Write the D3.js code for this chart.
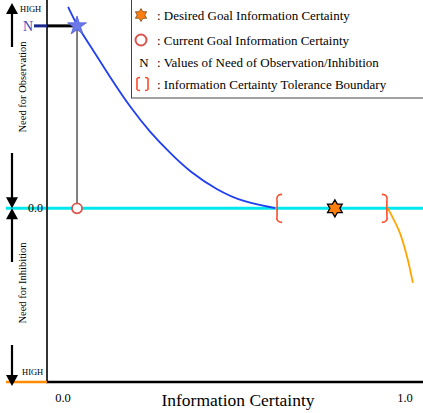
<!DOCTYPE html>
<html>
<head>
<meta charset="utf-8">
<script src="https://cdn.jsdelivr.net/npm/d3@7"></script>
<style>
  body { margin: 0; background: #fff; }
  svg { font-family: "Liberation Serif", "Times New Roman", serif; }
</style>
</head>
<body>
<svg id="chart" width="423" height="413"></svg>
<script>
// need for observation curve (blue), information certainty vs need value
const observationCurve = [
  [0.015, 1.16], [0.041, 1.051], [0.088, 0.912], [0.137, 0.757], [0.202, 0.567],
  [0.254, 0.44], [0.313, 0.319], [0.371, 0.21], [0.45, 0.106], [0.526, 0.037], [0.62, 0.002]
];
// need for inhibition curve (orange)
const inhibitionCurve = [
  [0.95, 0], [0.985, -0.141], [1.006, -0.279], [1.023, -0.429]
];
const currentCertainty = 0.041;
const currentNeed = 1.051;
const desiredCertainty = 0.795;
const toleranceBounds = [0.626, 0.947];
const xTickLabels = ["0.0", "1.0"];
const legendItems = [
  ": Desired Goal Information Certainty",
  ": Current Goal Information Certainty",
  ": Values of Need of Observation/Inhibition",
  ": Information Certainty Tolerance Boundary"
];

const svg = d3.select("#chart");
const x = d3.scaleLinear().domain([0, 1]).range([63, 405]);
const y = d3.scaleLinear().domain([-1, 1.2]).range([382, 0]);
const axisX = 47;

// zero line (cyan)
svg.append("line")
  .attr("x1", 6).attr("x2", 423)
  .attr("y1", y(0)).attr("y2", y(0))
  .attr("stroke", "#00e8ee").attr("stroke-width", 3);

// axes
svg.append("line")
  .attr("x1", axisX).attr("x2", axisX)
  .attr("y1", 0).attr("y2", y(-1))
  .attr("stroke", "#333").attr("stroke-width", 2);
svg.append("line")
  .attr("x1", axisX - 1).attr("x2", 423)
  .attr("y1", y(-1)).attr("y2", y(-1))
  .attr("stroke", "#000").attr("stroke-width", 2.5);
svg.append("line")
  .attr("x1", 6).attr("x2", axisX)
  .attr("y1", y(-1)).attr("y2", y(-1))
  .attr("stroke", "#ff8c00").attr("stroke-width", 2.5);

// x tick labels
svg.selectAll(".xtick")
  .data(xTickLabels)
  .enter()
  .append("text")
  .attr("class", "xtick")
  .attr("x", (d, i) => x(i))
  .attr("y", 402)
  .attr("text-anchor", "middle")
  .attr("font-size", 12.5)
  .text(d => d);

svg.append("text")
  .attr("x", 238).attr("y", 406)
  .attr("text-anchor", "middle")
  .attr("font-size", 17.5)
  .text("Information Certainty");

// left annotations: arrows with triangle heads
const arrowX = 12;
function arrow(y1, y2) {
  const dir = y2 > y1 ? 1 : -1;
  svg.append("line")
    .attr("x1", arrowX).attr("x2", arrowX)
    .attr("y1", y1).attr("y2", y2 - dir * 8)
    .attr("stroke", "#000").attr("stroke-width", 2.2);
  svg.append("path")
    .attr("d", "M" + (arrowX - 6) + "," + (y2 - dir * 11) +
      "L" + (arrowX + 6) + "," + (y2 - dir * 11) +
      "L" + arrowX + "," + y2 + "Z")
    .attr("fill", "#000");
}
arrow(47, 3);
arrow(153, y(0));
arrow(262, y(0));
arrow(345, 386);

svg.append("text").attr("x", 20).attr("y", 12)
  .attr("font-size", 8.5).text("HIGH");
svg.append("text").attr("x", 22).attr("y", 375)
  .attr("font-size", 8.5).text("HIGH");
svg.append("text").attr("x", 43).attr("y", y(0) + 4)
  .attr("text-anchor", "end").attr("font-size", 12).text("0.0");

svg.append("text")
  .attr("transform", "translate(26,87) rotate(-90)")
  .attr("text-anchor", "middle").attr("font-size", 10.5)
  .text("Need for Observation");
svg.append("text")
  .attr("transform", "translate(26,283) rotate(-90)")
  .attr("text-anchor", "middle").attr("font-size", 10.5)
  .text("Need for Inhibition");

// N marker on axis
svg.append("text")
  .attr("x", 28).attr("y", y(currentNeed) + 5)
  .attr("text-anchor", "middle").attr("font-size", 14)
  .attr("fill", "#3a48c0").text("N");
svg.append("line")
  .attr("x1", 34).attr("x2", axisX)
  .attr("y1", y(currentNeed)).attr("y2", y(currentNeed))
  .attr("stroke", "#1a2a8c").attr("stroke-width", 3);
svg.append("line")
  .attr("x1", axisX).attr("x2", x(currentCertainty) - 4)
  .attr("y1", y(currentNeed)).attr("y2", y(currentNeed))
  .attr("stroke", "#000").attr("stroke-width", 3);
svg.append("line")
  .attr("x1", x(currentCertainty)).attr("x2", x(currentCertainty))
  .attr("y1", y(currentNeed)).attr("y2", y(0))
  .attr("stroke", "#000").attr("stroke-width", 1);

// curves
const line = d3.line()
  .x(d => x(d[0]))
  .y(d => y(d[1]))
  .curve(d3.curveBasis);

svg.append("path")
  .datum(observationCurve)
  .attr("d", line)
  .attr("fill", "none")
  .attr("stroke", "#1f3ff0")
  .attr("stroke-width", 1.8);

svg.append("path")
  .datum(inhibitionCurve)
  .attr("d", d3.line().x(d => x(d[0])).y(d => y(d[1])).curve(d3.curveMonotoneY))
  .attr("fill", "none")
  .attr("stroke", "#ffa500")
  .attr("stroke-width", 1.8);

// tolerance brackets
function bracket(g, cx, cy, h, w, dir) {
  g.append("path")
    .attr("d", "M" + (cx + dir * w) + "," + (cy - h / 2) +
      " Q" + (cx - dir * w * 0.3) + "," + (cy - h / 2) + " " + cx + "," + (cy - h / 4) +
      " L" + cx + "," + (cy + h / 4) +
      " Q" + (cx - dir * w * 0.3) + "," + (cy + h / 2) + " " + (cx + dir * w) + "," + (cy + h / 2))
    .attr("fill", "none")
    .attr("stroke", "#ff4a2a")
    .attr("stroke-width", 1.6);
}
bracket(svg, x(toleranceBounds[0]), y(0), 28, 5, 1);
bracket(svg, x(toleranceBounds[1]), y(0), 28, 5, -1);

// stars
const fiveStar = d3.symbol().type(d3.symbolStar);
function sixStar(r) {
  const pts = [];
  for (let i = 0; i < 12; i++) {
    const a = Math.PI / 6 * i - Math.PI / 2;
    const rr = i % 2 === 0 ? r : r * 0.58;
    pts.push([rr * Math.cos(a), rr * Math.sin(a)]);
  }
  return "M" + pts.map(p => p.join(",")).join("L") + "Z";
}
svg.append("path")
  .attr("d", sixStar(8.5))
  .attr("transform", "translate(" + x(desiredCertainty) + "," + y(0) + ")")
  .attr("fill", "#ff7f0e").attr("stroke", "#000").attr("stroke-width", 1.3);

svg.append("path")
  .attr("d", fiveStar.size(110)())
  .attr("transform", "translate(" + x(currentCertainty) + "," + y(currentNeed) + ")")
  .attr("fill", "#6a78e8").attr("stroke", "#5060d8").attr("stroke-width", 0.8);

svg.append("circle")
  .attr("cx", x(currentCertainty)).attr("cy", y(0))
  .attr("r", 5)
  .attr("fill", "#fff").attr("stroke", "#d9534f").attr("stroke-width", 1.8);

// legend
const legend = svg.append("g");
legend.append("rect")
  .attr("x", 131.5).attr("y", -2)
  .attr("width", 300).attr("height", 100)
  .attr("fill", "#fff").attr("stroke", "#444").attr("stroke-width", 1);

const rowY = [15, 40, 62, 84];
legend.selectAll(".ltext")
  .data(legendItems)
  .enter()
  .append("text")
  .attr("class", "ltext")
  .attr("x", 157)
  .attr("y", (d, i) => rowY[i] + 4.5)
  .attr("font-size", 13)
  .text(d => d);

legend.append("path")
  .attr("d", sixStar(6.5))
  .attr("transform", "translate(141," + rowY[0] + ")")
  .attr("fill", "#ff7f0e").attr("stroke", "#7a4a10").attr("stroke-width", 0.8);
legend.append("circle")
  .attr("cx", 141).attr("cy", rowY[1]).attr("r", 5.5)
  .attr("fill", "#fff").attr("stroke", "#d9534f").attr("stroke-width", 2);
legend.append("text")
  .attr("x", 144).attr("y", rowY[2] + 4.5)
  .attr("text-anchor", "middle").attr("font-size", 13).text("N");
const lb = legend.append("g");
bracket(lb, 137, rowY[3], 13, 3, 1);
bracket(lb, 148, rowY[3], 13, 3, -1);
</script>
</body>
</html>
